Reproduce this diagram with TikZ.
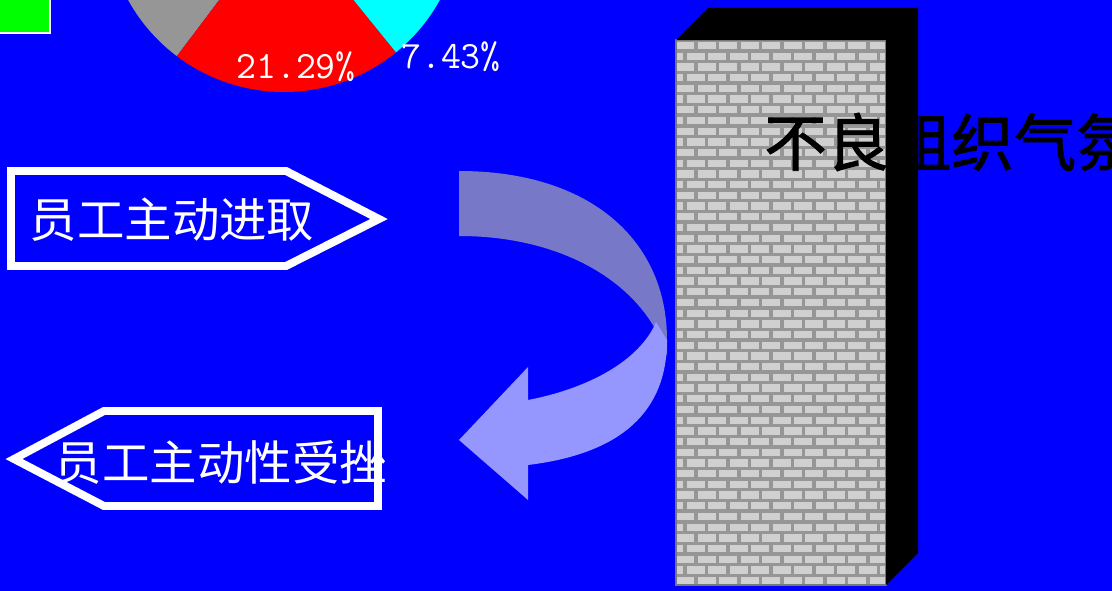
\documentclass[tikz,border=0pt]{standalone}
\usepackage{fontspec}
\newfontfamily\cjk{Noto Sans CJK SC}
\newfontfamily\cjkheavy{Noto Sans CJK SC}[FakeBold=1.5]
\usetikzlibrary{calc}
\definecolor{bg}{HTML}{0000FF}
\definecolor{piegray}{HTML}{969696}
\definecolor{piered}{HTML}{FF0000}
\definecolor{piecyan}{HTML}{00FFFF}
\definecolor{swatch}{HTML}{00FF00}
\definecolor{arrback}{RGB}{120,120,200}
\definecolor{arrfront}{RGB}{150,150,255}
\definecolor{mortar}{RGB}{150,150,150}
\definecolor{brick}{RGB}{208,208,208}

\begin{document}
\begin{tikzpicture}[x=0.02cm, y=-0.02cm,
  tag/.style={draw=white, line width=4.5pt},
  tagtext/.style={text=white, inner sep=0pt, font=\cjk\fontsize{27}{30}\selectfont},
  walltext/.style={text=black, inner sep=0pt, font=\cjkheavy\fontsize{35.5}{40}\selectfont},
  pct/.style={text=white, inner sep=0pt, font=\ttfamily\fontsize{22}{24}\selectfont},
  brickstone/.style={fill=brick}
]
  \clip (0,0) rectangle (1112,591);
  \fill[bg] (0,0) rectangle (1112,591);

  % legend swatch and pie
  \filldraw[fill=swatch, draw=white, line width=0.8pt] (-5,-5) rectangle (50,33);
  \coordinate (pie) at (284,-86);
  \fill[piegray] (pie) -- ++(127:178) arc[start angle=127, end angle=165, radius=178] -- cycle;
  \fill[piered] (pie) -- ++(51:178) arc[start angle=51, end angle=127, radius=178] -- cycle;
  \fill[piecyan] (pie) -- ++(24.3:178) arc[start angle=24.3, end angle=51, radius=178] -- cycle;
  \node[pct] (redpct) at (296,67) {21.29\%};
  \node[pct] (cyanpct) at (451,57) {7.43\%};

  % tags
  \draw[tag] (11,171) -- (286,171) -- (379,219) -- (286,266) -- (11,266) -- cycle;
  \node[tagtext] (active) at (172,220) {员工主动进取};
  \draw[tag] (378,411) -- (104,411) -- (14,459) -- (104,506) -- (378,506) -- cycle;
  \node[tagtext] (blocked) at (221,462) {员工主动性受挫};

  % curved arrow
  \fill[arrback] (459,171) .. controls (590,171) and (667,240) .. (667,340)
    -- (667,356) .. controls (645,285) and (565,236) .. (459,236) -- cycle;
  \fill[arrfront] (667,340) .. controls (667,420) and (610,455) .. (528,465)
    -- (528,500) -- (459,440) -- (528,367) -- (528,400)
    .. controls (590,388) and (640,360) .. (656,322) -- cycle;

  % brick wall
  \fill[mortar] (676,40) rectangle (886,585);
  \begin{scope}
    \clip (676,40) rectangle (886,585);
    \foreach \r in {0,...,51} {
      \pgfmathsetmacro\shift{mod(\r,2)*10.75}
      \foreach \c in {-1,...,10}
        \fill[brickstone] ({676+\shift+\c*21.5},{42+\r*10.7}) rectangle ++(18,7.3);
    }
  \end{scope}
  \draw[mortar!80!black, line width=1pt] (676,40) rectangle (886,585);
  \node[walltext, anchor=west] (mood) at (764,142) {不良组织气氛};
  \fill[black] (676,40) -- (708,8) -- (918,8) -- (918,553) -- (886,585) -- (886,40) -- cycle;
\end{tikzpicture}
\end{document}
